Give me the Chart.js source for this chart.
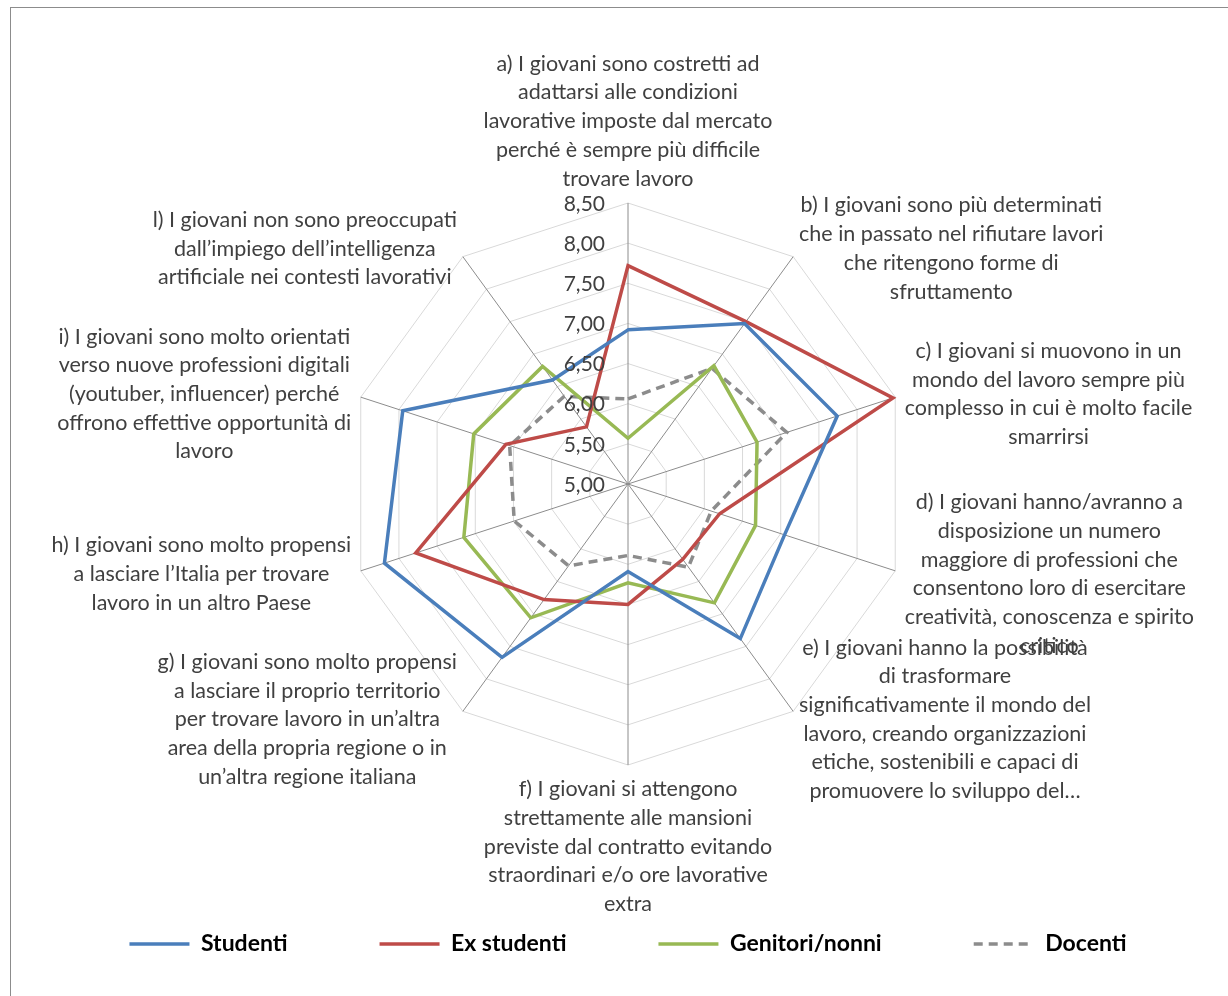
<!DOCTYPE html>
<html>
<head>
<meta charset="utf-8">
<script src="https://cdn.jsdelivr.net/npm/chart.js@4.4.1/dist/chart.umd.min.js"></script>
<style>
  html, body { margin: 0; padding: 0; background: #fff; }
  #wrap { position: relative; width: 1228px; height: 996px; overflow: hidden; }
  #frame { position: absolute; left: 10px; top: 7px; width: 1400px; height: 1200px; border: 1px solid #8c8c8c; }
  #radar { position: absolute; left: 0; top: 0; }
</style>
</head>
<body>
<div id="wrap">
  <div id="frame"></div>
  <canvas id="radar" width="1228" height="996"></canvas>
</div>
<script>
// axis labels (one line per array item, as wrapped in the original)
var categories = [
  ["a) I giovani sono costretti ad", "adattarsi alle condizioni", "lavorative imposte dal mercato", "perché è sempre più difficile", "trovare lavoro"],
  ["b) I giovani sono più determinati", "che in passato nel rifiutare lavori", "che ritengono forme di", "sfruttamento"],
  ["c) I giovani si muovono in un", "mondo del lavoro sempre più", "complesso in cui è molto facile", "smarrirsi"],
  ["d) I giovani hanno/avranno a", "disposizione un numero", "maggiore di professioni che", "consentono loro di esercitare", "creatività, conoscenza e spirito", "critico"],
  ["e) I giovani hanno la possibilità", "di trasformare", "significativamente il mondo del", "lavoro, creando organizzazioni", "etiche, sostenibili e capaci di", "promuovere lo sviluppo del…"],
  ["f) I giovani si attengono", "strettamente alle mansioni", "previste dal contratto evitando", "straordinari e/o ore lavorative", "extra"],
  ["g) I giovani sono molto propensi", "a lasciare il proprio territorio", "per trovare lavoro in un’altra", "area della propria regione o in", "un’altra regione italiana"],
  ["h) I giovani sono molto propensi", "a lasciare l’Italia per trovare", "lavoro in un altro Paese"],
  ["i) I giovani sono molto orientati", "verso nuove professioni digitali", "(youtuber, influencer) perché", "offrono effettive opportunità di", "lavoro"],
  ["l) I giovani non sono preoccupati", "dall’impiego dell’intelligenza", "artificiale nei contesti lavorativi"]
];

var studenti   = [6.92, 7.47, 7.74, 7.05, 7.38, 6.09, 7.67, 8.19, 7.95, 6.60];
var exStudenti = [7.72, 7.50, 8.47, 6.20, 6.16, 6.50, 6.78, 7.78, 6.60, 5.88];
var genitori   = [5.57, 6.82, 6.69, 6.67, 6.83, 6.23, 7.06, 7.15, 7.02, 6.81];
var docenti    = [6.06, 6.78, 7.08, 6.09, 6.28, 5.89, 6.26, 6.49, 6.55, 6.35];

var scaleMin = 5, scaleMax = 8.5, scaleStep = 0.5;

var labelFont = "21.5px Lato";
var labelLineH = 28.7;

// axis texts drawn as centred blocks outside each spoke
var blockLabels = {
  id: 'blockLabels',
  afterDraw: function(chart) {
    var r = chart.scales.r;
    var ctx = chart.ctx;
    ctx.save();
    ctx.font = labelFont;
    ctx.fillStyle = '#404040';
    ctx.textAlign = 'center';
    ctx.textBaseline = 'middle';
    categories.forEach(function(lines, i) {
      var p = r.getPointPosition(i, r.drawingArea + 10);
      var deg = i * 360 / categories.length;
      var w = 0;
      lines.forEach(function(l){ w = Math.max(w, ctx.measureText(l).width); });
      var h = lines.length * labelLineH;
      var cx, top;
      if (deg === 0) { cx = p.x; top = p.y - h; }
      else if (deg === 180) { cx = p.x; top = p.y; }
      else if (deg < 180) { cx = p.x + w / 2; top = p.y - h / 2; }
      else { cx = p.x - w / 2; top = p.y - h / 2; }
      lines.forEach(function(l, k) {
        ctx.fillText(l, cx, top + labelLineH * (k + 0.5));
      });
    });
    // tick values, left of the vertical spoke
    ctx.font = "21px Lato";
    ctx.textAlign = 'right';
    r.ticks.forEach(function(t) {
      var d = r.getDistanceFromCenterForValue(t.value);
      ctx.fillText(t.value.toFixed(2).replace('.', ','), r.xCenter - 23, r.yCenter - d + 1);
    });
    ctx.restore();
  }
};

var ctx = document.getElementById('radar');
var myRadar = new Chart(ctx, {
  type: 'radar',
  data: {
    labels: categories.map(function(c){ return c[0]; }),
    datasets: [
      { label: 'Studenti', data: studenti, borderColor: '#4A7EBB', borderWidth: 3.5 },
      { label: 'Ex studenti', data: exStudenti, borderColor: '#BE4B48', borderWidth: 3.5 },
      { label: 'Genitori/nonni', data: genitori, borderColor: '#98B954', borderWidth: 3.5 },
      { label: 'Docenti', data: docenti, borderColor: '#8C8C8C', borderWidth: 3.5, borderDash: [9, 6] }
    ]
  },
  options: {
    responsive: false,
    animation: false,
    layout: { padding: { left: 28, right: 0, top: 203, bottom: 30.5 } },
    elements: {
      line: { fill: false, tension: 0, backgroundColor: 'transparent' },
      point: { radius: 0, hoverRadius: 0 }
    },
    scales: {
      r: {
        min: scaleMin,
        max: scaleMax,
        ticks: { stepSize: scaleStep, display: false },
        pointLabels: { display: false },
        grid: { color: '#D9D9D9', lineWidth: 1 },
        angleLines: { color: '#8C8C8C', lineWidth: 1 }
      }
    },
    plugins: {
      tooltip: { enabled: false },
      legend: {
        position: 'bottom',
        title: { display: true, text: '', font: { size: 10, lineHeight: 1 }, padding: { top: 0, bottom: 65.5 } },
        labels: {
          usePointStyle: true,
          pointStyle: 'line',
          pointStyleWidth: 60,
          padding: 92,
          color: '#000',
          font: { family: 'Lato', size: 23, weight: 'bold' },
          generateLabels: function(chart) {
            var items = Chart.defaults.plugins.legend.labels.generateLabels(chart);
            items.forEach(function(it) {
              var ds = chart.data.datasets[it.datasetIndex];
              it.lineDash = ds.borderDash || [];
              it.lineWidth = ds.borderWidth;
              it.strokeStyle = ds.borderColor;
            });
            return items;
          }
        }
      }
    }
  },
  plugins: [blockLabels]
});
</script>
</body>
</html>
